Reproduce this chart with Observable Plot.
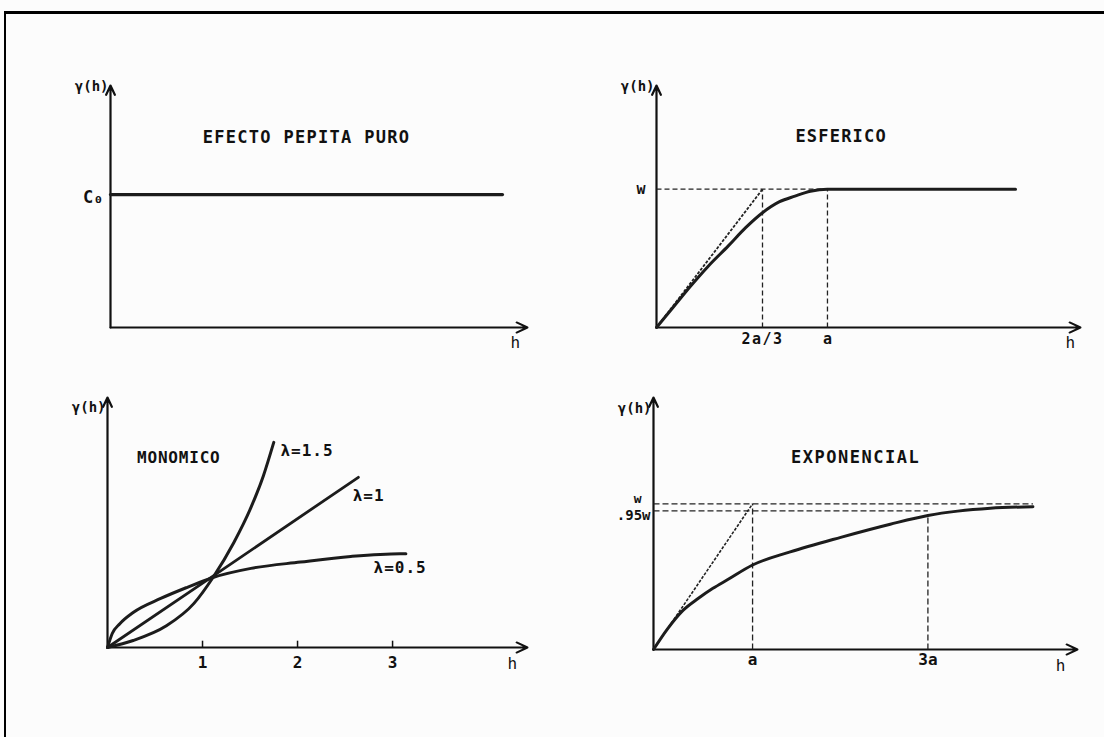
<!DOCTYPE html>
<html><head><meta charset="utf-8">
<script src="https://cdn.jsdelivr.net/npm/d3@7"></script>
<script src="https://cdn.jsdelivr.net/npm/@observablehq/plot@0.6"></script>
<style>
html,body{margin:0;padding:0;background:#fcfcfc;}
#page{position:relative;width:1104px;height:737px;overflow:hidden;background:#fcfcfc;}
#frame{position:absolute;left:4px;top:11px;width:1120px;height:760px;border-left:2px solid #000;border-top:3px solid #000;}
.panel{position:absolute;}
</style></head><body><div id="page"><div id="frame"></div></div>
<script>
// ---------- Panel 1: efecto pepita puro ----------
const pepitaTitle = "EFECTO PEPITA PURO";
const pepitaH = [0, 9.4];
const pepitaG = [1, 1];
const pepitaYTicks = [1];
const pepitaYLabels = ["C\u2080"];

// ---------- Panel 2: esférico (h in units of a, γ in units of w) ----------
const esfTitle = "ESFERICO";
const esfH = [0, 0.1, 0.2, 0.3, 0.42, 0.52, 0.62, 0.72, 0.81, 0.9, 1, 2.1];
const esfG = [0, 0.15, 0.3, 0.44, 0.59, 0.72, 0.83, 0.91, 0.95, 0.985, 1, 1];
const esfTangH = [0, 0.62];
const esfTangG = [0, 1];
const esfXTicks = [0.62, 1];
const esfXLabels = ["2a/3", "a"];
const esfYTicks = [1];
const esfYLabels = ["w"];

// ---------- Panel 3: monómico ----------
const monoTitle = "MONOMICO";
const monoXTicks = [1, 2, 3];
const monoNames = ["\u03bb=0.5", "\u03bb=1", "\u03bb=1.5"];
const mono05H = [0, 0.05, 0.13, 0.27, 0.56, 0.84, 1.11, 1.51, 2.03, 2.56, 3.08, 3.14];
const mono05G = [0, 0.2, 0.34, 0.5, 0.7, 0.86, 1.0, 1.13, 1.22, 1.3, 1.34, 1.34];
const mono1H = [0, 1.11, 2.64];
const mono1G = [0, 1.02, 2.43];
const mono15H = [0, 0.27, 0.62, 0.91, 1.11, 1.33, 1.51, 1.64, 1.75];
const mono15G = [0, 0.1, 0.31, 0.63, 1.0, 1.5, 2.0, 2.45, 2.93];

// ---------- Panel 4: exponencial ----------
const expTitle = "EXPONENCIAL";
const expH = [0, 0.14, 0.3, 0.45, 0.6, 0.75, 1.0, 1.38, 1.89, 2.39, 2.77, 3.07, 3.4, 3.83];
const expG = [0, 0.14, 0.27, 0.35, 0.42, 0.48, 0.58, 0.67, 0.77, 0.86, 0.92, 0.95, 0.97, 0.98];
const expTangH = [0, 1];
const expTangG = [0, 1];
const expXTicks = [1, 2.77];
const expXLabels = ["a", "3a"];
const expYTicks = [1, 0.952];
const expYLabels = ["w", ".95w"];

// ---------- helpers ----------
const FONT = "'DejaVu Sans Mono', monospace";
const INK = "#111";
const rows = (H, G) => H.map((h, i) => ({h, g: G[i]}));
const seg = (x1, y1, x2, y2) => ({x1, y1, x2, y2});
const spaced = {
  [pepitaTitle]: "1.3px", [esfTitle]: "1.2px", [monoTitle]: "0.8px", [expTitle]: "1.5px",
  [monoNames[0]]: "1px", [monoNames[1]]: "1px", [monoNames[2]]: "1px", "2a/3": "1.5px"
};

function axesMarks(xmax, ymax) {
  return [
    Plot.arrow([seg(0, 0, xmax, 0)], {x1: "x1", y1: "y1", x2: "x2", y2: "y2", stroke: INK, strokeWidth: 2, headLength: 9, headAngle: 50}),
    Plot.arrow([seg(0, 0, 0, ymax)], {x1: "x1", y1: "y1", x2: "x2", y2: "y2", stroke: INK, strokeWidth: 2.2, headLength: 7, headAngle: 50})
  ];
}
function curve(H, G, extra = {}) {
  return Plot.line(rows(H, G), {x: "h", y: "g", curve: "monotone-x", stroke: "#1c1c1c", strokeWidth: 3, strokeLinecap: "round", ...extra});
}
function dashed(segs, dash = "6,4", w = 1.3) {
  return Plot.link(segs, {x1: "x1", y1: "y1", x2: "x2", y2: "y2", stroke: "#222", strokeWidth: w, strokeDasharray: dash});
}
function label(items, extra = {}) {
  return Plot.text(items, {x: "x", y: "y", text: "t", fontFamily: FONT, fill: INK, fontSize: 15, ...extra});
}
function panel(opts) {
  const {left, top, width, height, ml, mr, mt, mb, xmax, ymax, marks} = opts;
  const svg = Plot.plot({
    width, height,
    marginLeft: ml, marginRight: mr, marginTop: mt, marginBottom: mb,
    x: {domain: [0, xmax], axis: null},
    y: {domain: [0, ymax], axis: null},
    style: {background: "transparent", overflow: "visible", fontFamily: FONT, color: INK},
    marks
  });
  svg.querySelectorAll("text").forEach(t => {
    const s = spaced[t.textContent];
    if (s) t.style.letterSpacing = s;
  });
  const div = document.createElement("div");
  div.className = "panel";
  div.style.left = left + "px";
  div.style.top = top + "px";
  div.appendChild(svg);
  document.getElementById("page").appendChild(div);
}

// ---------- Panel 1 ----------
{
  const xmax = 10, ymax = 1.82;
  panel({left: 40, top: 70, width: 510, height: 290, ml: 70, mr: 23, mt: 15, mb: 33, xmax, ymax, marks: [
    ...axesMarks(xmax, ymax),
    curve(pepitaH, pepitaG, {curve: "linear", strokeWidth: 3.2}),
    Plot.axisY(pepitaYTicks, {anchor: "left", tickSize: 0, tickPadding: 7, fontSize: 17, fontFamily: FONT, fontWeight: "bold", tickFormat: (d, i) => pepitaYLabels[i], label: null, dy: 3}),
    label([{x: 4.7, y: 1.43, t: pepitaTitle}], {fontWeight: "bold", fontSize: 17}),
    label([{x: 0, y: ymax, t: "\u03b3(h)"}], {textAnchor: "end", dx: -2, dy: 1, fontSize: 14, fontWeight: "bold"}),
    label([{x: 9.71, y: 0, t: "h"}], {dy: 15, fontSize: 16})
  ]});
}

// ---------- Panel 2 ----------
{
  const xmax = 2.48, ymax = 1.75;
  panel({left: 590, top: 70, width: 510, height: 290, ml: 66, mr: 20, mt: 15, mb: 33, xmax, ymax, marks: [
    ...axesMarks(xmax, ymax),
    dashed([seg(0, 1, 1, 1), seg(esfXTicks[0], 0, esfXTicks[0], 1), seg(esfXTicks[1], 0, esfXTicks[1], 1)], "5,3"),
    dashed([seg(esfTangH[0], esfTangG[0], esfTangH[1], esfTangG[1])], "3,1.5", 1.8),
    curve(esfH, esfG),
    Plot.axisX(esfXTicks, {anchor: "bottom", tickSize: 0, tickPadding: 6, fontSize: 15, fontFamily: FONT, fontWeight: "bold", tickFormat: (d, i) => esfXLabels[i], label: null}),
    Plot.axisY(esfYTicks, {anchor: "left", tickSize: 0, tickPadding: 11, fontSize: 15, fontFamily: FONT, fontWeight: "bold", tickFormat: (d, i) => esfYLabels[i], label: null}),
    label([{x: 1.08, y: 1.38, t: esfTitle}], {fontWeight: "bold", fontSize: 17}),
    label([{x: 0, y: ymax, t: "\u03b3(h)"}], {textAnchor: "end", dx: -2, dy: 1, fontSize: 14, fontWeight: "bold"}),
    label([{x: 2.42, y: 0, t: "h"}], {dy: 15, fontSize: 16})
  ]});
}

// ---------- Panel 3 ----------
{
  const xmax = 4.42, ymax = 3.57;
  panel({left: 40, top: 385, width: 510, height: 300, ml: 67, mr: 23, mt: 12, mb: 38, xmax, ymax, marks: [
    ...axesMarks(xmax, ymax),
    Plot.ruleX(monoXTicks, {y1: 0, y2: 0.09, stroke: INK, strokeWidth: 1.5}),
    curve(mono05H, mono05G),
    curve(mono1H, mono1G, {curve: "linear", strokeWidth: 2.8}),
    curve(mono15H, mono15G),
    Plot.axisX(monoXTicks, {anchor: "bottom", tickSize: 0, tickPadding: 9, fontSize: 16, fontFamily: FONT, fontWeight: "bold", label: null}),
    label([{x: 0.75, y: 2.71, t: monoTitle}], {fontWeight: "bold", fontSize: 16}),
    label([{x: 1.82, y: 2.81, t: monoNames[2]}, {x: 2.58, y: 2.17, t: monoNames[1]}, {x: 2.8, y: 1.14, t: monoNames[0]}], {textAnchor: "start", fontSize: 16, fontWeight: "bold"}),
    label([{x: 0, y: ymax, t: "\u03b3(h)"}], {textAnchor: "end", dx: -2, dy: 10, fontSize: 14, fontWeight: "bold"}),
    label([{x: 4.26, y: 0, t: "h"}], {dy: 16, fontSize: 16})
  ]});
}

// ---------- Panel 4 ----------
{
  const xmax = 4.28, ymax = 1.73;
  panel({left: 590, top: 385, width: 510, height: 300, ml: 63, mr: 23, mt: 12, mb: 36, xmax, ymax, marks: [
    ...axesMarks(xmax, ymax),
    dashed([seg(0, expYTicks[0], expH[expH.length - 1], expYTicks[0]), seg(0, expYTicks[1], expXTicks[1], expYTicks[1]),
            seg(expXTicks[0], 0, expXTicks[0], expYTicks[0]), seg(expXTicks[1], 0, expXTicks[1], expG[10])], "6,3"),
    dashed([seg(expTangH[0], expTangG[0], expTangH[1], expTangG[1])], "3,1.5", 1.6),
    curve(expH, expG),
    Plot.axisX(expXTicks, {anchor: "bottom", tickSize: 0, tickPadding: 4, fontSize: 16, fontFamily: FONT, fontWeight: "bold", tickFormat: (d, i) => expXLabels[i], label: null}),
    Plot.axisY([expYTicks[0]], {anchor: "left", tickSize: 0, tickPadding: 12, fontSize: 13, fontFamily: FONT, fontWeight: "bold", tickFormat: () => expYLabels[0], label: null, dy: -5}),
    Plot.axisY([expYTicks[1]], {anchor: "left", tickSize: 0, tickPadding: 3, fontSize: 14, fontFamily: FONT, fontWeight: "bold", tickFormat: () => expYLabels[1], label: null, dy: 5}),
    label([{x: 2.04, y: 1.32, t: expTitle}], {fontWeight: "bold", fontSize: 17}),
    label([{x: 0, y: ymax, t: "\u03b3(h)"}], {textAnchor: "end", dx: -2, dy: 11, fontSize: 14, fontWeight: "bold"}),
    label([{x: 4.11, y: 0, t: "h"}], {dy: 16, fontSize: 16})
  ]});
}
</script></body></html>
